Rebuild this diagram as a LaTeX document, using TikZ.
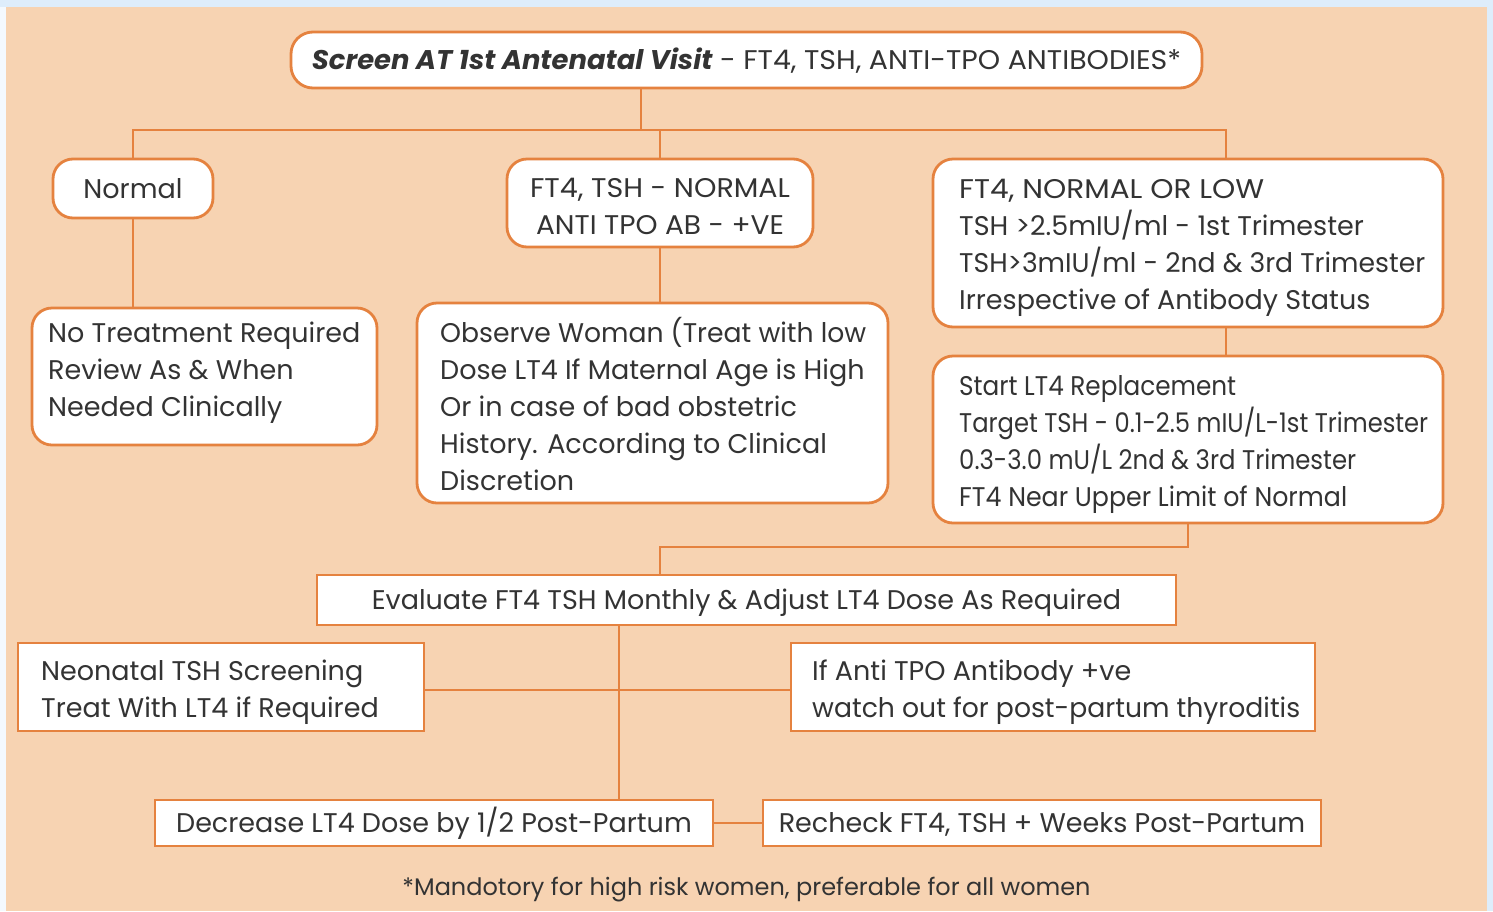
\documentclass[tikz,border=0pt]{standalone}
\usepackage{graphicx}
\usepackage{fontspec}
\setmainfont{Poppins}
\usetikzlibrary{calc}
\definecolor{peach}{HTML}{F7D3B2}
\definecolor{edge}{HTML}{E5823F}
\definecolor{skyb}{HTML}{DEEDFB}
\definecolor{skyl}{HTML}{F4F9FE}
\definecolor{ink}{HTML}{333333}
\newcommand\fitw[2]{\resizebox{#1pt}{\height}{#2}}
\begin{document}
\begin{tikzpicture}[x=1pt,y=-1pt,
  rbox/.style={draw=edge,line width=2.8pt,fill=white,rounded corners=20pt,inner sep=0pt},
  sbox/.style={draw=edge,line width=2.8pt,fill=white,inner sep=0pt},
  conn/.style={draw=edge,line width=2.8pt},
  txt/.style={inner sep=0pt,anchor=north west,align=left,text=ink,font=\fontsize{27}{37}\selectfont},
  one/.style={text=ink,font=\fontsize{27}{37}\selectfont,text height=19pt,text depth=0pt}]
\useasboundingbox (0,0) rectangle (1493,911);
\fill[skyb] (0,0) rectangle (1493,911);
\fill[skyl] (0,7) rectangle (6,911);
\fill[peach] (6,7) rectangle (1487,911);

% boxes
\node[rbox,rounded corners=22pt,minimum width=911pt,minimum height=56pt,one] (top) at (746.5,60)
  {\fitw{401}{\textbf{\textit{Screen AT 1st Antenatal Visit}}} \fitw{461}{- FT4, TSH, ANTI-TPO ANTIBODIES*}};
\node[rbox,minimum width=160pt,minimum height=59pt,one] (normal) at (133,188.5) {Normal};
\node[rbox,minimum width=306pt,minimum height=88pt] (mid) at (660,203) {};
\node[rbox,minimum width=510pt,minimum height=168pt] (right) at (1188,243) {};
\node[rbox,minimum width=345pt,minimum height=137pt] (notreat) at (204.5,376.5) {};
\node[rbox,minimum width=471pt,minimum height=200pt] (observe) at (652.5,403) {};
\node[rbox,minimum width=510pt,minimum height=167pt] (start) at (1188,439.5) {};
\node[sbox,minimum width=859pt,minimum height=50pt,one] (eval) at (746.5,600)
  {Evaluate FT4 TSH Monthly \& Adjust LT4 Dose As Required};
\node[sbox,minimum width=406pt,minimum height=88pt] (neo) at (221,687) {};
\node[sbox,minimum width=524pt,minimum height=88pt] (ifanti) at (1053,687) {};
\node[sbox,minimum width=558pt,minimum height=46pt,one] (dec) at (434,823)
  {Decrease LT4 Dose by 1/2 Post-Partum};
\node[sbox,minimum width=558pt,minimum height=46pt,one] (rech) at (1042,823)
  {Recheck FT4, TSH + Weeks Post-Partum};

% texts of the multi-line boxes
\node[txt,anchor=north,align=center] (tmid) at (660,171.6)
  {\strut\fitw{260}{FT4, TSH - NORMAL}\\\fitw{248}{ANTI TPO AB - +VE}};
\node[txt] (tright) at (959,172.1)
  {\strut\fitw{305}{FT4, NORMAL OR LOW}\\TSH >2.5mIU/ml - 1st Trimester\\\fitw{466}{TSH>3mIU/ml - 2nd \& 3rd Trimester}\\Irrespective of Antibody Status};
\node[txt] (tnotreat) at (48,316.6)
  {\strut No Treatment Required\\Review As \& When\\Needed Clinically};
\node[txt] (tobserve) at (440,316.6)
  {\strut\fitw{426}{Observe Woman (Treat with low}\\Dose LT4 If Maternal Age is High\\Or in case of bad obstetric\\History. According to Clinical\\Discretion};
\node[txt] (tstart) at (959,369.1)
  {\strut\fitw{277}{Start LT4 Replacement}\\\fitw{469}{Target TSH - 0.1-2.5 mIU/L-1st Trimester}\\\fitw{397}{0.3-3.0 mU/L 2nd \& 3rd Trimester}\\\fitw{388}{FT4 Near Upper Limit of Normal}};
\node[txt] (tneo) at (41,654.6)
  {\strut Neonatal TSH Screening\\Treat With LT4 if Required};
\node[txt] (tifanti) at (812,654.6)
  {\strut If Anti TPO Antibody +ve\\\fitw{488}{watch out for post-partum thyroditis}};
\node[text=ink,font=\fontsize{24}{30}\selectfont,text height=17pt,text depth=0pt,inner sep=0pt] (foot) at (746.5,887)
  {*Mandotory for high risk women, preferable for all women};

% connectors
\coordinate (j0) at (641,130);
\coordinate (jr) at (1226,130);
\coordinate (j2) at (660,547);
\coordinate (j3) at (619,690);
\draw[conn] (j0 |- top.south) -- (j0);
\draw[conn] (normal.north) |- (jr) -- (jr |- right.north);
\draw[conn] (mid.north |- j0) -- (mid.north);
\draw[conn] (normal.south) -- (normal.south |- notreat.north);
\draw[conn] (mid.south) -- (mid.south |- observe.north);
\draw[conn] (jr |- right.south) -- (jr |- start.north);
\draw[conn] (start.south) |- (j2) -- (j2 |- eval.north);
\draw[conn] (j3 |- eval.south) -- (j3 |- dec.north);
\draw[conn] (neo.east |- j3) -- (ifanti.west |- j3);
\draw[conn] (dec.east) -- (rech.west);
\end{tikzpicture}
\end{document}
